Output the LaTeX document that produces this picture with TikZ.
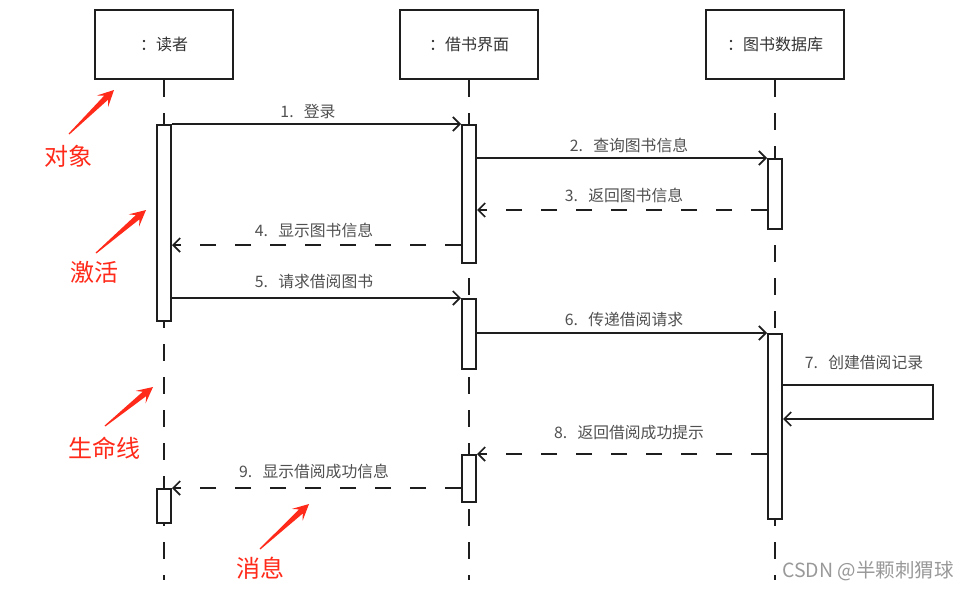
\documentclass[tikz,border=0pt]{standalone}
\usepackage{fontspec}
\newfontfamily\cjk{Noto Sans CJK SC}
\usetikzlibrary{arrows.meta,calc}
\definecolor{lbl}{HTML}{505050}
\definecolor{ttl}{HTML}{333333}
\definecolor{ln}{HTML}{1E1E1E}
\definecolor{redc}{HTML}{FF2A1A}
\definecolor{wm}{HTML}{999999}
\newcommand\gp{\hspace{0.65em}}
\newcommand\redarrow[3]{%
  \coordinate (#3s) at ($(#2)!11pt!(#1)$);
  \coordinate (#3b) at ($(#2)!16pt!(#1)$);
  \fill[redc] ($(#1)!0.6pt!90:(#2)$) -- ($(#3s)!2.8pt!90:(#2)$) -- ($(#3b)!8pt!90:(#2)$) -- (#2)
    -- ($(#3b)!8pt!-90:(#2)$) -- ($(#3s)!2.8pt!-90:(#2)$) -- ($(#1)!0.6pt!-90:(#2)$) -- cycle;}
\begin{document}
\begin{tikzpicture}[x=1pt,y=-1pt,
  obj/.style={draw=ln, line width=2pt, minimum width=138pt, minimum height=69pt, inner sep=0pt,
    font=\cjk\fontsize{16}{19}\selectfont, text=ttl},
  life/.style={draw=ln, line width=2pt, dash pattern=on 17pt off 16pt},
  act/.style={draw=ln, line width=2pt, fill=white, minimum width=14pt, inner sep=0pt, anchor=north},
  msg/.style={draw=ln, line width=1.7pt, -{Straight Barb[length=7pt,width=14pt,line width=1.7pt]}},
  ret/.style={msg, dash pattern=on 16pt off 19pt},
  lab/.style={font=\cjk\fontsize{15.8}{18}\selectfont, text=lbl, inner sep=0pt},
  note/.style={font=\cjk\fontsize{24}{28}\selectfont, text=redc, inner sep=0pt},
]
\fill[white] (0,0) rectangle (970,592);
\useasboundingbox (0,0) rectangle (970,592);

% objects
\node[obj] (o1) at (164,44.5) {：读者};
\node[obj] (o2) at (469,44.5) {：借书界面};
\node[obj] (o3) at (775,44.5) {：图书数据库};

% lifelines
\coordinate (bot) at (0,580);
\draw[life] (o1.south) -- (o1.south |- bot);
\draw[life] (o2.south) -- (o2.south |- bot);
\draw[life] (o3.south) -- (o3.south |- bot);

% activations
\node[act, minimum height=196pt] (a1) at (164,124) {};
\node[act, minimum height=138pt] (a2) at (469,124) {};
\node[act, minimum height=70pt]  (a3) at (775,158) {};
\node[act, minimum height=70pt]  (a4) at (469,298) {};
\node[act, minimum height=185pt] (a5) at (775,333) {};
\node[act, minimum height=47pt]  (a6) at (469,454) {};
\node[act, minimum height=34pt]  (a7) at (164,488) {};

% message levels
\coordinate (y3) at (0,210);
\coordinate (y4) at (0,245);
\coordinate (y7a) at (0,385);
\coordinate (y7b) at (0,419);
\coordinate (x7) at (933,0);

% messages
\draw[msg] (a1.north east) -- (a2.north west);
\draw[msg] (a2.east |- a3.north) -- (a3.north west);
\draw[ret] (a3.west |- y3) -- (a2.east |- y3);
\draw[ret] (a2.west |- y4) -- (a1.east |- y4);
\draw[msg] (a1.east |- a4.north) -- (a4.north west);
\draw[msg] (a4.east |- a5.north) -- (a5.north west);
\draw[msg, line width=2pt] (a5.east |- y7a) -- (x7 |- y7a) -- (x7 |- y7b) -- (a5.east |- y7b);
\draw[ret] (a5.west |- a6.north) -- (a6.north east);
\draw[ret] (a6.west |- a7.north) -- (a7.north east);

% labels
\node[lab] (l1) at (308,112) {1.\gp{}登录};
\node[lab] (l2) at (629,145) {2.\gp{}查询图书信息};
\node[lab] (l3) at (624,195) {3.\gp{}返回图书信息};
\node[lab] (l4) at (314,230) {4.\gp{}显示图书信息};
\node[lab] (l5) at (314,282) {5.\gp{}请求借阅图书};
\node[lab] (l6) at (624,319) {6.\gp{}传递借阅请求};
\node[lab] (l7) at (864,363) {7.\gp{}创建借阅记录};
\node[lab] (l8) at (629,433) {8.\gp{}返回借阅成功提示};
\node[lab] (l9) at (314,471) {9.\gp{}显示借阅成功信息};

% annotations
\node[note] (n1) at (68,156) {对象};
\node[note] (n2) at (94,272) {激活};
\node[note] (n3) at (104,448) {生命线};
\node[note] (n4) at (260,568) {消息};
\coordinate (t1) at (69,134);  \coordinate (h1) at (114,90);
\coordinate (t2) at (96,253);  \coordinate (h2) at (146,210);
\coordinate (t3) at (105,426); \coordinate (h3) at (153,387);
\coordinate (t4) at (260,549); \coordinate (h4) at (309,504);
\redarrow{t1}{h1}{ra}
\redarrow{t2}{h2}{rb}
\redarrow{t3}{h3}{rc}
\redarrow{t4}{h4}{rd}

% watermark
\node[font=\cjk\fontsize{19.5}{22}\selectfont, text=wm, inner sep=0pt] (wmk) at (868,571) {CSDN @半颗刺猬球};
\end{tikzpicture}
\end{document}
